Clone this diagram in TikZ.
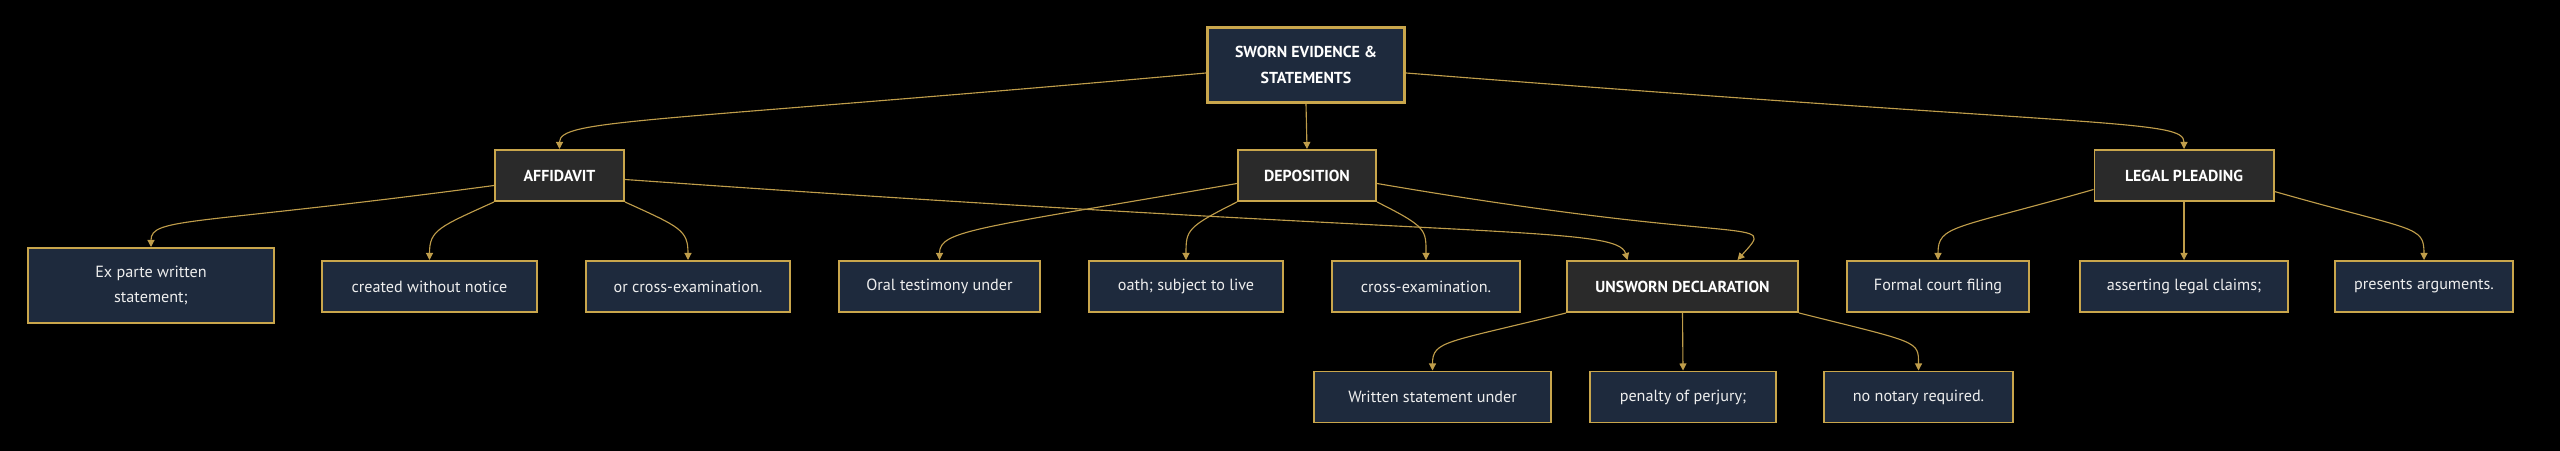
\documentclass[tikz,border=0pt]{standalone}
\usepackage{fontspec}
\setmainfont{PT Sans}
\usepackage{xcolor}
\definecolor{gold}{HTML}{C9A64C}
\definecolor{wire}{HTML}{BF9D4A}
\definecolor{navy}{HTML}{1E2A3D}
\definecolor{slate}{HTML}{2A2A2A}
\definecolor{paper}{HTML}{000000}
\definecolor{ink}{HTML}{EEEEEE}
\usepackage{tikz}
\usetikzlibrary{arrows.meta}

\begin{document}
\begin{tikzpicture}[x=0.025cm, y=-0.025cm,
    root/.style={rectangle, draw=gold, line width=2.2pt, fill=navy, text=white, font=\bfseries\fontsize{11.3}{18}\selectfont, align=center, minimum height=1.875cm},
    group/.style={rectangle, draw=gold, line width=1.4pt, fill=slate, text=white, font=\bfseries\fontsize{11.3}{13}\selectfont, minimum height=1.275cm},
    leaf/.style={rectangle, draw=gold, line width=1.4pt, fill=navy, text=ink, font=\fontsize{11.5}{18}\selectfont, align=center, minimum height=1.275cm},
    line/.style={draw=wire, line width=0.8pt, -{Triangle[length=5pt, width=5pt]}}]

    % Frame
    \fill [paper] (0,0) rectangle (2560,451);
    \useasboundingbox (0,0) rectangle (2560,451);

    % Top
    \node [root, minimum width=4.925cm] (sworn) at (1306,65) {SWORN EVIDENCE \&\\STATEMENTS};

    % Kinds
    \node [group, minimum width=3.225cm] (affidavit) at (559.5,175.5) {AFFIDAVIT};
    \node [group, minimum width=3.45cm] (deposition) at (1307,175.5) {DEPOSITION};
    \node [group, minimum width=4.475cm] (pleading) at (2184,175.5) {LEGAL PLEADING};
    \node [group, minimum width=5.775cm] (unsworn) at (1682.5,286.5) {UNSWORN DECLARATION};

    % Affidavit text
    \node [leaf, minimum width=6.15cm, minimum height=1.875cm] (exparte) at (151,285.5) {Ex parte written\\statement;};
    \node [leaf, minimum width=5.375cm] (notice) at (429.5,286.5) {created without notice};
    \node [leaf, minimum width=5.1cm] (crossa) at (688,286.5) {or cross-examination.};

    % Deposition text
    \node [leaf, minimum width=5.025cm] (oral) at (939.5,286.5) {Oral testimony under};
    \node [leaf, minimum width=4.85cm] (oath) at (1186,286.5) {oath; subject to live};
    \node [leaf, minimum width=4.7cm] (crossd) at (1426,286.5) {cross-examination.};

    % Pleading text
    \node [leaf, minimum width=4.55cm] (filing) at (1938,286.5) {Formal court filing};
    \node [leaf, minimum width=5.2cm] (claims) at (2184,286.5) {asserting legal claims;};
    \node [leaf, minimum width=4.45cm] (arguments) at (2424,286.5) {presents arguments.};

    % Declaration text
    \node [leaf, minimum width=5.925cm] (written) at (1432.5,397) {Written statement under};
    \node [leaf, minimum width=4.65cm] (perjury) at (1683,397) {penalty of perjury;};
    \node [leaf, minimum width=4.725cm] (notary) at (1918.5,397) {no notary required.};

    % Connections
    \path [line] ([yshift=-0.2cm]sworn.west) .. controls +(-560,50) and +(0,-30) .. (affidavit.north);
    \path [line] (sworn.south) -- (deposition.north);
    \path [line] ([yshift=-0.2cm]sworn.east) .. controls +(700,55) and +(0,-30) .. (pleading.north);

    \path [line] ([yshift=-0.25cm]affidavit.west) .. controls +(-300,40) and +(0,-30) .. (exparte.north);
    \path [line] (affidavit.south west) .. controls +(-55,25) and +(0,-30) .. (notice.north);
    \path [line] (affidavit.south east) .. controls +(55,25) and +(0,-30) .. (crossa.north);
    \path [line] ([yshift=-0.1cm]affidavit.east) .. controls +(850,60) and +(-10,-35) .. ([xshift=-1.375cm]unsworn.north);

    \path [line] ([yshift=-0.2cm]deposition.west) .. controls +(-260,45) and +(0,-30) .. (oral.north);
    \path [line] (deposition.south west) .. controls +(-50,25) and +(0,-30) .. (oath.north);
    \path [line] (deposition.south east) .. controls +(50,25) and +(0,-30) .. (crossd.north);
    \path [line] ([yshift=-0.2cm]deposition.east) .. controls +(380,65) and +(40,-45) .. ([xshift=1.375cm]unsworn.north);

    \path [line] ([yshift=-0.35cm]pleading.west) .. controls +(-140,40) and +(0,-35) .. (filing.north);
    \path [line] (pleading.south) -- (claims.north);
    \path [line] ([yshift=-0.4cm]pleading.east) .. controls +(140,40) and +(0,-35) .. (arguments.north);

    \path [line] (unsworn.south west) .. controls +(-120,30) and +(0,-30) .. (written.north);
    \path [line] (unsworn.south) -- (perjury.north);
    \path [line] (unsworn.south east) .. controls +(120,30) and +(0,-30) .. (notary.north);
\end{tikzpicture}
\end{document}
